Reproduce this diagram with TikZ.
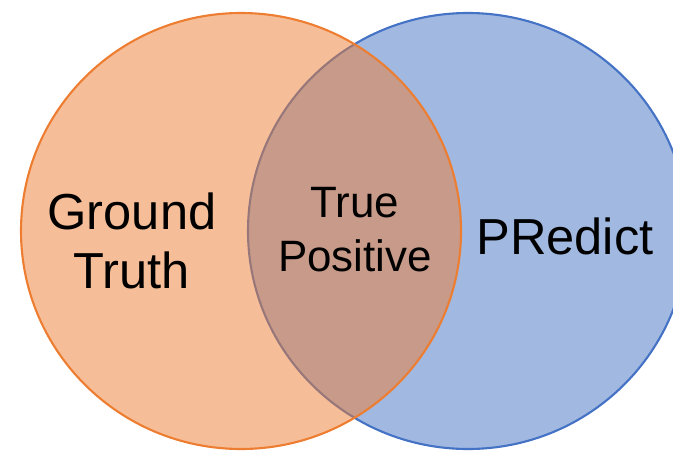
\documentclass[tikz,border=0pt]{standalone}
\usepackage{fontspec}
\setmainfont{Liberation Sans}
\usepackage{tikz}
\usetikzlibrary{shapes.geometric}

\definecolor{gtorange}{HTML}{ED7D31}
\definecolor{prblue}{HTML}{4472C4}

\begin{document}
\begin{tikzpicture}
\useasboundingbox (0,0) rectangle (6.73,4.50);
\clip (0,0) rectangle (6.73,4.50);
\begin{scope}[every node/.style={ellipse,inner sep=0pt,line width=0.6pt,
                                 minimum width=4.40cm,minimum height=4.36cm}]
    \node (pred) [draw=prblue,fill=prblue,fill opacity=0.5] at (4.68, 2.19) {};
    \node (truth) [draw=gtorange,fill=gtorange,fill opacity=0.5] at (2.41, 2.19) {};
\end{scope}
\begin{scope}[every node/.style={align=center,inner sep=0pt},
              big_label/.style={font=\fontsize{14.4}{17}\selectfont},
              small_label/.style={font=\fontsize{12.5}{15.4}\selectfont}]
    \node (gtlabel) [big_label] at (1.32, 2.09) {Ground\\Truth};
    \node (tplabel) [small_label] at (3.55, 2.20) {True\\Positive};
    \node (prlabel) [big_label] at (5.65, 2.135) {PRedict};
\end{scope}
\end{tikzpicture}
\end{document}
